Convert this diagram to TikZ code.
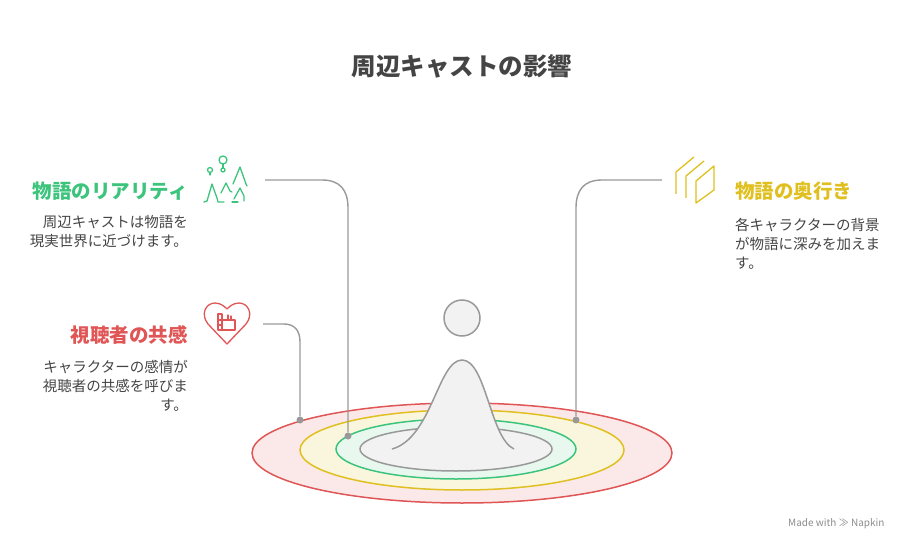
\documentclass[tikz,border=0pt]{standalone}
\usepackage{fontspec}
\setmainfont{Noto Sans CJK JP}
\definecolor{cg}{HTML}{3CC47C}
\definecolor{cr}{HTML}{E05555}
\definecolor{cy}{HTML}{E0C020}
\definecolor{ln}{HTML}{999999}
\definecolor{tx}{HTML}{444444}
\tikzset{conn/.style={draw=ln,line width=1.4pt},
 dotc/.style={circle,fill=ln,inner sep=0pt,minimum size=7pt},
 ttl/.style={font=\fontsize{19.5}{22}\selectfont\bfseries,inner sep=0pt},
 desc/.style={font=\fontsize{14.5}{19}\selectfont,text=tx,inner sep=0pt,align=left},
 descr/.style={desc,align=right}}
\begin{document}
\begin{tikzpicture}[x=1pt,y=-1pt]
\useasboundingbox (0,0) rectangle (912,553);
\node[font=\fontsize{24.5}{28}\selectfont\bfseries,text=tx] (title) at (462,66) {周辺キャストの影響};
% rings
\draw[cr,fill=cr!13,line width=1.5pt] (462,453) ellipse (210 and 50);
\draw[cy,fill=cy!15,line width=1.5pt] (462,450) ellipse (162 and 40);
\draw[cg,fill=cg!12,line width=1.5pt] (456,449) ellipse (120 and 30);
\draw[ln,fill=black!5,line width=1.5pt] (456,449) ellipse (96 and 22);
% figure
\draw[ln,fill=black!5,line width=1.5pt] (392,449) .. controls (432,438) and (438,360) .. (462,360) .. controls (486,360) and (490,438) .. (514,449);
\node[circle,draw=ln,fill=black!5,line width=1.5pt,minimum size=36pt,inner sep=0pt] (head) at (462,318) {};
% dots
\node[dotc] (d1) at (348,436) {};
\node[dotc] (d2) at (300,420) {};
\node[dotc] (d3) at (576,420) {};
\coordinate (s1) at (265,180);
\coordinate (s2) at (263,324);
\coordinate (s3) at (662,180);
\draw[conn] (s1) -- (322,180) .. controls (340,180) and (348,190) .. (348,208) -- (d1);
\draw[conn] (s2) -- (284,324) .. controls (294,324) and (300,330) .. (300,342) -- (d2);
\draw[conn] (s3) -- (602,180) .. controls (584,180) and (576,190) .. (576,208) -- (d3);
% texts
\node[ttl,text=cg,anchor=east] (t1) at (188,191) {物語のリアリティ};
\node[descr,anchor=north east] (e1) at (188,215) {周辺キャストは物語を\\現実世界に近づけます。};
\node[ttl,text=cr,anchor=east] (t2) at (188,335) {視聴者の共感};
\node[descr,anchor=north east] (e2) at (188,360) {キャラクターの感情が\\視聴者の共感を呼びま\\す。};
\node[ttl,text=cy,anchor=west] (t3) at (735,191) {物語の奥行き};
\node[desc,anchor=north west] (e3) at (735,218) {各キャラクターの背景\\が物語に深みを加えま\\す。};
\node[font=\fontsize{10}{11}\selectfont,text=black!45,anchor=east] (nap) at (888,524) {Made with ≫ Napkin};
% icon green
\begin{scope}[cg,line width=1.3pt,line cap=round,line join=round]
\draw (210,170) circle (2.5); \draw (210,173)--(210,175);
\draw (223,160) circle (4); \draw (223,164)--(223,168); \draw (223,170) circle (2);
\draw (204,202)--(207,201)--(212,184)--(217,198)--(218,202)--(224,202);
\draw (221,193)--(226,183)--(230,191)--(232,192);
\draw (233,184)--(240,167)--(246,184)--(247,186);
\draw (234,199)--(240,188)--(244,196)--(244,201);
\draw (232,202)--(238,202);
\end{scope}
% icon heart
\begin{scope}[cr,line width=1.3pt,line cap=round,line join=round]
\draw (227,344) -- (208,324) .. controls (200,314) and (206,303) .. (215,303) .. controls (221,303) and (225,307) .. (227,309) .. controls (229,307) and (233,303) .. (239,303) .. controls (248,303) and (254,314) .. (246,324) -- cycle;
\draw (218,330) -- (218,314) -- (222,314) -- (222,330) -- cycle;
\draw (222,330) rectangle (235,320);
\draw (218,320)--(222,320); \draw (218,325)--(222,325);
\draw (228,320)--(228,315); \draw (231,320)--(231,316);
\end{scope}
% icon yellow
\begin{scope}[cy,line width=1.3pt,line join=round]
\draw (676,194) -- (676,172) -- (694,157);
\draw (686,198) -- (686,176) -- (704,161);
\draw (696,203) -- (696,181) -- (714,166) -- (714,190) -- cycle;
\end{scope}
\end{tikzpicture}
\end{document}
